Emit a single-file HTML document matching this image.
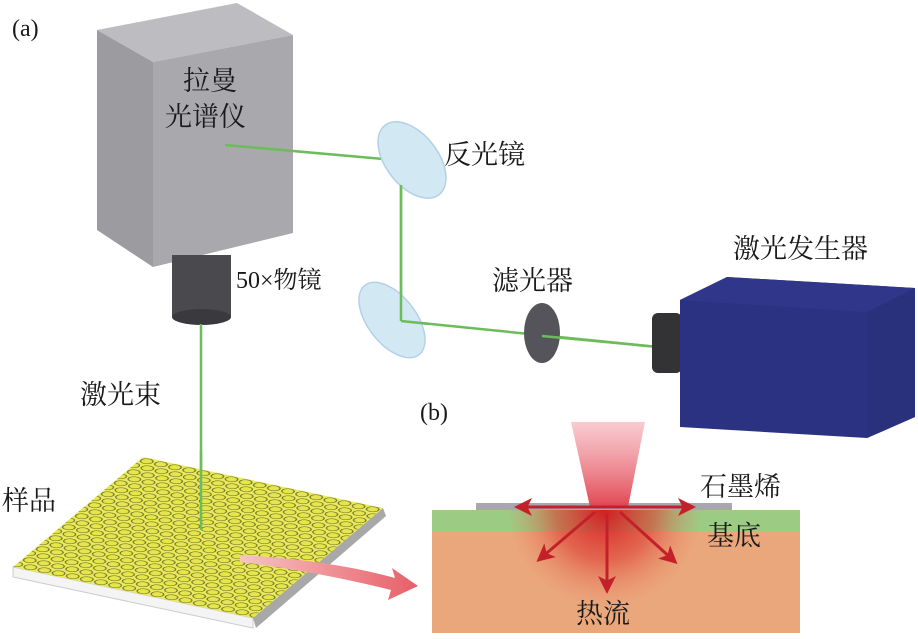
<!DOCTYPE html>
<html><head><meta charset="utf-8"><style>
html,body{margin:0;padding:0;background:#fff;}
svg{display:block;}
text{font-family:"Liberation Serif","Noto Serif CJK SC",serif;fill:#1a1a1a;}
</style></head><body>
<svg width="918" height="639" viewBox="0 0 918 639" xmlns="http://www.w3.org/2000/svg">
<defs>
<pattern id="hex" patternUnits="userSpaceOnUse" width="1" height="2">
<rect width="1" height="2" fill="#e8ec5a"/>
<circle cx="0.5" cy="0.5" r="0.4" fill="#e4e64c" stroke="#6f6a2a" stroke-width="0.08"/>
<circle cx="0" cy="1.5" r="0.4" fill="#e4e64c" stroke="#6f6a2a" stroke-width="0.08"/>
<circle cx="1" cy="1.5" r="0.4" fill="#e4e64c" stroke="#6f6a2a" stroke-width="0.08"/>
</pattern>
<radialGradient id="heat" cx="605" cy="510" r="100" gradientUnits="userSpaceOnUse">
<stop offset="0" stop-color="#d4141e" stop-opacity="0.95"/>
<stop offset="0.5" stop-color="#dd3a30" stop-opacity="0.6"/>
<stop offset="1" stop-color="#e88a6a" stop-opacity="0"/>
</radialGradient>
<linearGradient id="beam" x1="0" y1="422" x2="0" y2="510" gradientUnits="userSpaceOnUse">
<stop offset="0" stop-color="#f4a8b0" stop-opacity="0.6"/>
<stop offset="1" stop-color="#e0404c"/>
</linearGradient>
<linearGradient id="pk" x1="240" y1="0" x2="415" y2="0" gradientUnits="userSpaceOnUse">
<stop offset="0" stop-color="#f6c4c4"/>
<stop offset="1" stop-color="#e8606a"/>
</linearGradient>
<marker id="ah" markerWidth="6" markerHeight="6" refX="4" refY="3" orient="auto" markerUnits="strokeWidth">
<path d="M0,0 L6,3 L0,6 L1.5,3 z" fill="#c4202a"/>
</marker>
</defs>

<text x="12" y="36" font-size="24">(a)</text>

<polygon points="97,30 237,3 293,35 153,62" fill="#bdbcc0"/>
<polygon points="97,30 153,62 153,267 97,230" fill="#9c9ba0"/>
<polygon points="153,62 293,35 293,233 153,267" fill="#a9a8ad"/>
<rect x="172" y="255" width="59" height="62" fill="#4a4a4e"/>
<ellipse cx="201.5" cy="317" rx="29.5" ry="8" fill="#3a3a3e"/>
<text x="183" y="90" font-size="27">拉曼</text>
<text x="165" y="126" font-size="27">光谱仪</text>
<text x="236" y="288" font-size="24">50×物镜</text>

<g stroke="#6cbc5a" stroke-width="2.5" fill="none">
<line x1="225" y1="145" x2="395" y2="160"/>
<line x1="401" y1="185" x2="401" y2="321"/>
<line x1="401" y1="321" x2="658" y2="347"/>
<line x1="201" y1="324" x2="201" y2="530"/>
</g>
<ellipse cx="412" cy="160" rx="26" ry="44" transform="rotate(-38 412 160)" fill="#d2e8f2" stroke="#b4d0e8" stroke-width="1.5"/>
<ellipse cx="392" cy="320" rx="24" ry="44" transform="rotate(-38 392 320)" fill="#d2e8f2" stroke="#b4d0e8" stroke-width="1.5"/>
<line x1="401" y1="185" x2="401" y2="321" stroke="#6cbc5a" stroke-width="2.5"/>
<line x1="401" y1="321" x2="430" y2="324" stroke="#6cbc5a" stroke-width="2.5"/>
<text x="444" y="164" font-size="27">反光镜</text>
<ellipse cx="542" cy="333" rx="18" ry="30" fill="#54545a"/>
<line x1="542" y1="336" x2="658" y2="347" stroke="#6cbc5a" stroke-width="2.5"/>
<text x="492" y="290" font-size="27">滤光器</text>
<rect x="652" y="313" width="30" height="60" rx="6" fill="#333336"/>
<polygon points="680,300 727,277 915,288 915,417 867,438 680,427" fill="#2c3282"/>
<polygon points="680,300 727,277 915,288 867,312" fill="#30378a"/>
<polygon points="867,312 915,288 915,417 867,438" fill="#2a317c"/>
<text x="733" y="258" font-size="27">激光发生器</text>

<text x="80" y="404" font-size="27">激光束</text>
<text x="2" y="510" font-size="27">样品</text>

<!-- sample -->
<polygon points="13,567 253,618 253,628 13,577" fill="#f4f4f4" stroke="#ccc" stroke-width="1"/>
<polygon points="253,618 383,508 386,516 256,628" fill="#a8a8a8"/>
<g transform="matrix(14.12,3,-6.5,5.5,143,457)">
<rect x="0" y="0" width="17" height="20" fill="url(#hex)"/>
</g>
<line x1="201" y1="450" x2="201" y2="530" stroke="#6cbc5a" stroke-width="2.5"/>
<path d="M240,555 Q330,560 395,578 L392,568 L418,586 L388,600 L391,590 Q320,572 240,562 z" fill="url(#pk)"/>

<text x="420" y="420" font-size="24">(b)</text>
<rect x="432" y="510" width="368" height="123" fill="#eba77c"/>
<rect x="432" y="510" width="368" height="21" fill="#9ccc84"/>
<rect x="476" y="503" width="256" height="7" fill="#a8a8aa"/>
<path d="M510,510 A95,95 0 0 0 700,510 z" fill="url(#heat)"/>
<polygon points="571,422 645,422 628,507 590,507" fill="url(#beam)"/>
<g stroke="#c4202a" stroke-width="3" fill="none" marker-end="url(#ah)">
<line x1="605" y1="507" x2="520" y2="507"/>
<line x1="605" y1="507" x2="690" y2="507"/>
<line x1="595" y1="512" x2="541" y2="558"/>
<line x1="607" y1="514" x2="607" y2="588"/>
<line x1="620" y1="512" x2="673" y2="560"/>
</g>
<text x="700" y="496" font-size="27">石墨烯</text>
<text x="707" y="545" font-size="27">基底</text>
<text x="576" y="623" font-size="27">热流</text>
</svg>
</body></html>
